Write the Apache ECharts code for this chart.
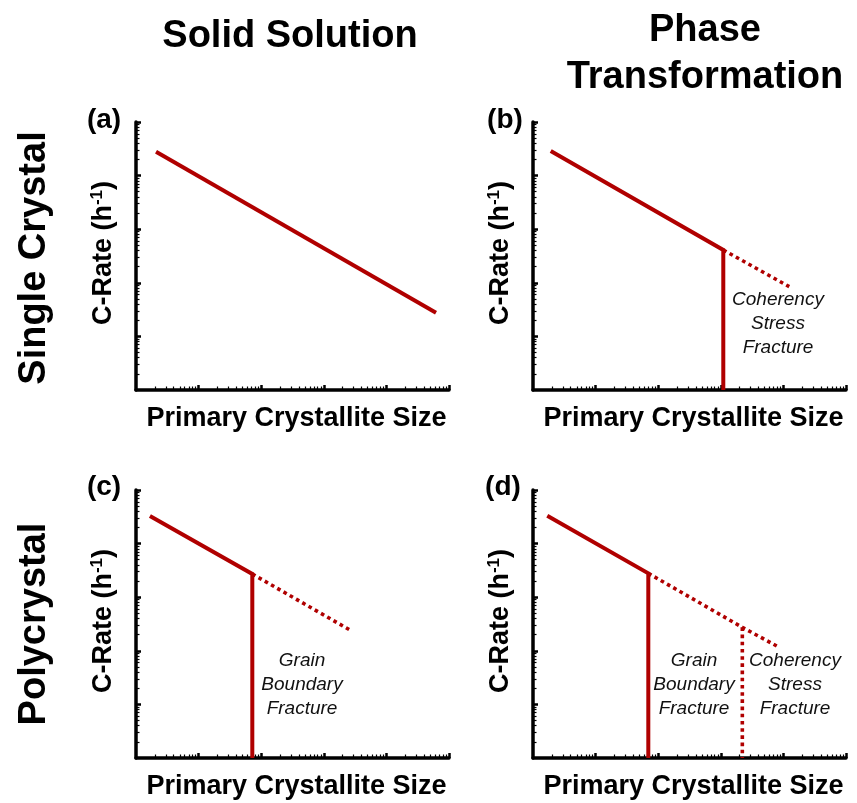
<!DOCTYPE html>
<html>
<head>
<meta charset="utf-8">
<script src="https://cdn.jsdelivr.net/npm/echarts@6/dist/echarts.min.js"></script>
<style>
html,body{margin:0;padding:0;background:#fff;}
#chart{width:857px;height:803px;}
</style>
</head>
<body>
<div id="chart"></div>
<script>
// ---- data (log-log axes) ----
const axisMin = 1;
const axisMax = 100000;
const majorTicks = [10, 100, 1000, 10000, 100000];
const minorTicks = [2,3,4,5,6,7,8,9, 20,30,40,50,60,70,80,90, 200,300,400,500,600,700,800,900,
  2000,3000,4000,5000,6000,7000,8000,9000, 20000,30000,40000,50000,60000,70000,80000,90000];

// (a) Single crystal, solid solution
const aLineX = [2.09, 62000];
const aLineY = [27900, 27.7];
// (b) Single crystal, phase transformation
const bSolidX = [1.92, 1096, 1096];
const bSolidY = [28800, 409, 1];
const bDotX = [1096, 12400];
const bDotY = [409, 84.6];
// (c) Polycrystal, solid solution
const cSolidX = [1.67, 72.1, 72.1];
const cSolidY = [32700, 2710, 1];
const cDotX = [72.1, 2790];
const cDotY = [2710, 234];
// (d) Polycrystal, phase transformation
const dSolidX = [1.69, 69.5, 69.5];
const dSolidY = [33100, 2790, 1];
const dDotX = [69.5, 2207, 7820];
const dDotY = [2790, 274, 123];
const dDotVX = [2207, 2207];
const dDotVY = [274, 1];

const colTitles = ['Solid Solution', 'Phase\nTransformation'];
const rowTitles = ['Single Crystal', 'Polycrystal'];
const panelLetters = ['(a)', '(b)', '(c)', '(d)'];
const xName = 'Primary Crystallite Size';

// ---- styles ----
const FONT = "'Liberation Sans', Arial, sans-serif";
const RED = '#b00000';
const grids = [
  {left: 136, top: 122, width: 313, height: 268},
  {left: 533, top: 122, width: 313, height: 268},
  {left: 136, top: 490, width: 313, height: 268},
  {left: 533, top: 490, width: 313, height: 268}
];

const xAxes = [], yAxes = [];
grids.forEach((g, i) => {
  xAxes.push({
    type: 'log', logBase: 10, gridIndex: i, min: axisMin, max: axisMax, position: 'bottom',
    axisLine: {show: true, onZero: false, lineStyle: {color: '#000', width: 3.5}},
    axisTick: {show: true, inside: true, length: 3.5, customValues: minorTicks, lineStyle: {color: '#000', width: 1.2}},
    axisLabel: {show: false}, splitLine: {show: false}, minorTick: {show: false},
    name: xName, nameLocation: 'middle', nameGap: 15,
    nameTextStyle: {fontFamily: FONT, fontWeight: 'bold', fontSize: 27, color: '#000', verticalAlign: 'top', padding: [0, 0, 0, 8]}
  });
  xAxes.push({
    type: 'log', logBase: 10, gridIndex: i, min: axisMin, max: axisMax, position: 'bottom',
    axisLine: {show: false, onZero: false},
    axisTick: {show: true, inside: true, length: 5, customValues: majorTicks, lineStyle: {color: '#000', width: 2.5}},
    axisLabel: {show: false}, splitLine: {show: false}
  });
  yAxes.push({
    type: 'log', logBase: 10, gridIndex: i, min: axisMin, max: axisMax, position: 'left',
    axisLine: {show: true, onZero: false, lineStyle: {color: '#000', width: 3.5}},
    axisTick: {show: true, inside: true, length: 3.5, customValues: minorTicks, lineStyle: {color: '#000', width: 1.2}},
    axisLabel: {show: false}, splitLine: {show: false}, minorTick: {show: false},
    name: 'C-Rate (h{sup|-1})', nameLocation: 'middle', nameGap: 17, nameRotate: 90,
    nameTextStyle: {
      fontFamily: FONT, fontWeight: 'bold', fontSize: 27, color: '#000', lineHeight: 30,
      padding: [0, 0, 0, 6],
      rich: {sup: {fontFamily: FONT, fontWeight: 'bold', fontSize: 17, color: '#000', verticalAlign: 'top', lineHeight: 30, padding: [0, 0, 10, 0]}}
    }
  });
  yAxes.push({
    type: 'log', logBase: 10, gridIndex: i, min: axisMin, max: axisMax, position: 'left',
    axisLine: {show: false, onZero: false},
    axisTick: {show: true, inside: true, length: 5, customValues: majorTicks, lineStyle: {color: '#000', width: 2.5}},
    axisLabel: {show: false}, splitLine: {show: false}
  });
});

function zip(xs, ys) { return xs.map((x, k) => [x, ys[k]]); }
function lineSeries(panel, xs, ys, dotted) {
  return {
    type: 'line', xAxisIndex: panel * 2, yAxisIndex: panel * 2,
    data: zip(xs, ys), showSymbol: false, symbol: 'none', silent: true, animation: false,
    lineStyle: {color: RED, width: dotted ? 3.6 : 4, type: dotted ? 'dotted' : 'solid', cap: 'butt', join: 'miter'},
    z: 1
  };
}

const series = [
  lineSeries(0, aLineX, aLineY, false),
  lineSeries(1, bSolidX, bSolidY, false),
  lineSeries(1, bDotX, bDotY, true),
  lineSeries(2, cSolidX, cSolidY, false),
  lineSeries(2, cDotX, cDotY, true),
  lineSeries(3, dSolidX, dSolidY, false),
  lineSeries(3, dDotX, dDotY, true),
  lineSeries(3, dDotVX, dDotVY, true)
];

function txt(x, y, text, size, opts) {
  return Object.assign({
    type: 'text', x: x, y: y, silent: true,
    style: Object.assign({text: text, fontFamily: FONT, fontSize: size, fontWeight: 'bold', fill: '#000',
      align: 'center', verticalAlign: 'middle'}, (opts && opts.style) || {})
  }, (opts && opts.el) || {});
}
const noteStyle = {fontStyle: 'italic', fontWeight: 'normal', lineHeight: 24, fill: '#111'};

const graphic = [
  txt(290, 37, colTitles[0], 38),
  txt(705, 54, colTitles[1], 38, {style: {lineHeight: 47}}),
  txt(35, 258, rowTitles[0], 38, {el: {rotation: Math.PI / 2}}),
  txt(35, 624, rowTitles[1], 38, {el: {rotation: Math.PI / 2}}),
  txt(104, 120, panelLetters[0], 28),
  txt(505, 120, panelLetters[1], 28),
  txt(104, 487, panelLetters[2], 28),
  txt(503, 487, panelLetters[3], 28),
  txt(778, 324, 'Coherency\nStress\nFracture', 19, {style: noteStyle}),
  txt(302, 685, 'Grain\nBoundary\nFracture', 19, {style: noteStyle}),
  txt(694, 685, 'Grain\nBoundary\nFracture', 19, {style: noteStyle}),
  txt(795, 685, 'Coherency\nStress\nFracture', 19, {style: noteStyle})
];

const chart = echarts.init(document.getElementById('chart'), null, {renderer: 'canvas'});
chart.setOption({
  backgroundColor: '#fff',
  animation: false,
  grid: grids,
  xAxis: xAxes,
  yAxis: yAxes,
  series: series,
  graphic: graphic
});
</script>
</body>
</html>
